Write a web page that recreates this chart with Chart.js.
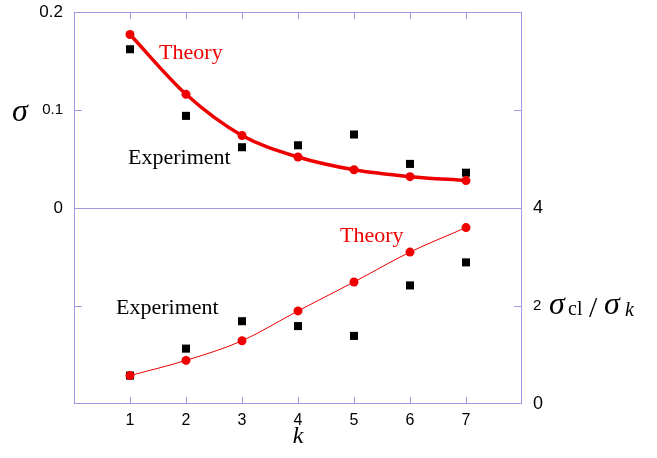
<!DOCTYPE html>
<html>
<head>
<meta charset="utf-8">
<script src="https://cdn.jsdelivr.net/npm/chart.js@4"></script>
<style>
	html, body { margin: 0; padding: 0; background: #fff; }
	#wrap { width: 657px; height: 458px; }
</style>
</head>
<body>
<div id="wrap"><canvas id="kChart" width="657" height="458"></canvas></div>
<script>
// k values on the x axis
const kValues = [1, 2, 3, 4, 5, 6, 7];
// upper panel: sigma (left axis)
const sigmaTheory = [0.177, 0.116, 0.074, 0.052, 0.039, 0.032, 0.028];
const sigmaExperiment = [0.162, 0.094, 0.062, 0.064, 0.075, 0.045, 0.036];
// lower panel: sigma_cl / sigma_k (right axis)
const ratioTheory = [0.58, 0.89, 1.29, 1.9, 2.49, 3.1, 3.6];
const ratioExperiment = [0.58, 1.13, 1.69, 1.59, 1.39, 2.42, 2.89];
// tick labels
const xTicks = [1, 2, 3, 4, 5, 6, 7];
const sigmaTicks = [0, 0.1, 0.2];
const ratioTicks = [0, 2, 4];

const red = "rgb(238, 0, 0)";
const frameColor = "rgb(160, 152, 228)";
const sans = "'Liberation Sans', Arial, sans-serif";
const serif = "'Liberation Serif', 'Times New Roman', serif";

const toPoints = (ys) => kValues.map((k, i) => ({ x: k, y: ys[i] }));
const near = (a, b) => Math.abs(a - b) < 1e-6;

// fixed axis size, and no extra label padding above / below the plot
const fitSide = (w) => (s) => {
	s.width = w;
	s.paddingTop = 0;
	s.paddingBottom = 0;
};

// frame, inner ticks, split line and text labels
const decorPlugin = {
	id: "decor",
	beforeDatasetsDraw(chart) {
		const { ctx, chartArea: a, scales } = chart;
		const x = scales.x, y = scales.y;
		ctx.save();
		ctx.strokeStyle = frameColor;
		ctx.lineWidth = 1;
		ctx.strokeRect(a.left + 0.5, a.top + 0.5, a.right - a.left - 1, a.bottom - a.top - 1);
		ctx.beginPath();
		const midY = Math.round(y.getPixelForValue(0)) + 0.5;
		ctx.moveTo(a.left, midY);
		ctx.lineTo(a.right, midY);
		xTicks.forEach((k) => {
			const px = Math.round(x.getPixelForValue(k)) + 0.5;
			ctx.moveTo(px, a.top);
			ctx.lineTo(px, a.top + 7);
			ctx.moveTo(px, a.bottom);
			ctx.lineTo(px, a.bottom - 7);
		});
		[0.1, -0.1].forEach((v) => {
			const py = Math.round(y.getPixelForValue(v)) + 0.5;
			ctx.moveTo(a.left, py);
			ctx.lineTo(a.left + 8, py);
			ctx.moveTo(a.right, py);
			ctx.lineTo(a.right - 8, py);
		});
		ctx.stroke();
		ctx.restore();
	},
	afterDraw(chart) {
		const { ctx, chartArea: a, scales } = chart;
		const x = scales.x, y = scales.y, y2 = scales.y2;
		ctx.save();
		ctx.textBaseline = "middle";
		ctx.textAlign = "left";
		ctx.font = "22px " + serif;
		ctx.fillStyle = red;
		ctx.fillText("Theory", x.getPixelForValue(1.52), y.getPixelForValue(0.158));
		ctx.fillText("Theory", x.getPixelForValue(4.75), y2.getPixelForValue(3.42));
		ctx.fillStyle = "#000";
		ctx.fillText("Experiment", x.getPixelForValue(0.965), y.getPixelForValue(0.051));
		ctx.fillText("Experiment", x.getPixelForValue(0.75), y2.getPixelForValue(1.96));

		// axis titles
		ctx.textBaseline = "alphabetic";
		ctx.font = "italic 32px " + serif;
		ctx.fillText("σ", 12, 121);
		ctx.textAlign = "center";
		ctx.font = "italic 24px " + serif;
		ctx.fillText("k", (a.left + a.right) / 2, 443);

		// right title: sigma_cl / sigma_k
		ctx.textAlign = "left";
		const base = 314;
		ctx.font = "italic 32px " + serif;
		ctx.fillText("σ", 549, base);
		ctx.font = "20px " + serif;
		ctx.fillText("cl", 568, base + 1);
		ctx.font = "30px " + serif;
		ctx.fillText("/", 589, base + 3);
		ctx.font = "italic 32px " + serif;
		ctx.fillText("σ", 604, base);
		ctx.font = "italic 20px " + serif;
		ctx.fillText("k", 625, base + 2);
		ctx.restore();
	},
};

const ctx = document.getElementById("kChart");
const myChart = new Chart(ctx, {
	type: "line",
	data: {
		datasets: [
			{
				label: "Theory sigma",
				data: toPoints(sigmaTheory),
				yAxisID: "y",
				borderColor: red,
				backgroundColor: red,
				borderWidth: 3.5,
				pointRadius: 4.5,
				pointBorderWidth: 0,
				cubicInterpolationMode: "monotone",
			},
			{
				label: "Theory ratio",
				data: toPoints(ratioTheory),
				yAxisID: "y2",
				borderColor: red,
				backgroundColor: red,
				borderWidth: 1,
				pointRadius: 4.5,
				pointBorderWidth: 0,
				cubicInterpolationMode: "monotone",
			},
			{
				label: "Experiment sigma",
				data: toPoints(sigmaExperiment),
				yAxisID: "y",
				showLine: false,
				pointStyle: "rect",
				pointRadius: 5.7,
				pointBorderWidth: 0,
				backgroundColor: "#000",
				borderColor: "#000",
			},
			{
				label: "Experiment ratio",
				data: toPoints(ratioExperiment),
				yAxisID: "y2",
				showLine: false,
				pointStyle: "rect",
				pointRadius: 5.7,
				pointBorderWidth: 0,
				backgroundColor: "#000",
				borderColor: "#000",
			},
		],
	},
	options: {
		responsive: false,
		animation: false,
		layout: {
			padding: { top: 12, left: 0, right: 0, bottom: 0 },
		},
		plugins: {
			legend: { display: false },
			tooltip: { enabled: false },
		},
		scales: {
			x: {
				type: "linear",
				min: 0,
				max: 8,
				border: { display: false },
				grid: { display: false, drawTicks: false },
				afterFit: (s) => { s.height = 54; },
				ticks: {
					stepSize: 1,
					autoSkip: false,
					maxRotation: 0,
					padding: 7,
					color: "#000",
					font: { family: sans, size: 16 },
					callback: (v) => (xTicks.includes(v) ? String(v) : ""),
				},
			},
			y: {
				position: "left",
				min: -0.2,
				max: 0.2,
				border: { display: false },
				grid: { display: false, drawTicks: false },
				afterFit: fitSide(74),
				ticks: {
					stepSize: 0.1,
					autoSkip: false,
					padding: 11,
					color: "#000",
					font: (c) => ({
						family: sans,
						size: c.tick && near(c.tick.value, 0.1) ? 15 : 17,
					}),
					callback: (v) => {
						const hit = sigmaTicks.find((t) => near(t, v));
						return hit === undefined ? "" : String(hit);
					},
				},
			},
			y2: {
				position: "right",
				min: 0,
				max: 8,
				border: { display: false },
				grid: { display: false, drawTicks: false },
				afterFit: fitSide(135),
				ticks: {
					stepSize: 2,
					autoSkip: false,
					padding: 11,
					color: "#000",
					font: (c) => ({
						family: sans,
						size: c.tick && c.tick.value === 2 ? 15 : 18,
					}),
					callback: (v) => (ratioTicks.includes(v) ? String(v) : ""),
				},
			},
		},
	},
	plugins: [decorPlugin],
});
</script>
</body>
</html>
